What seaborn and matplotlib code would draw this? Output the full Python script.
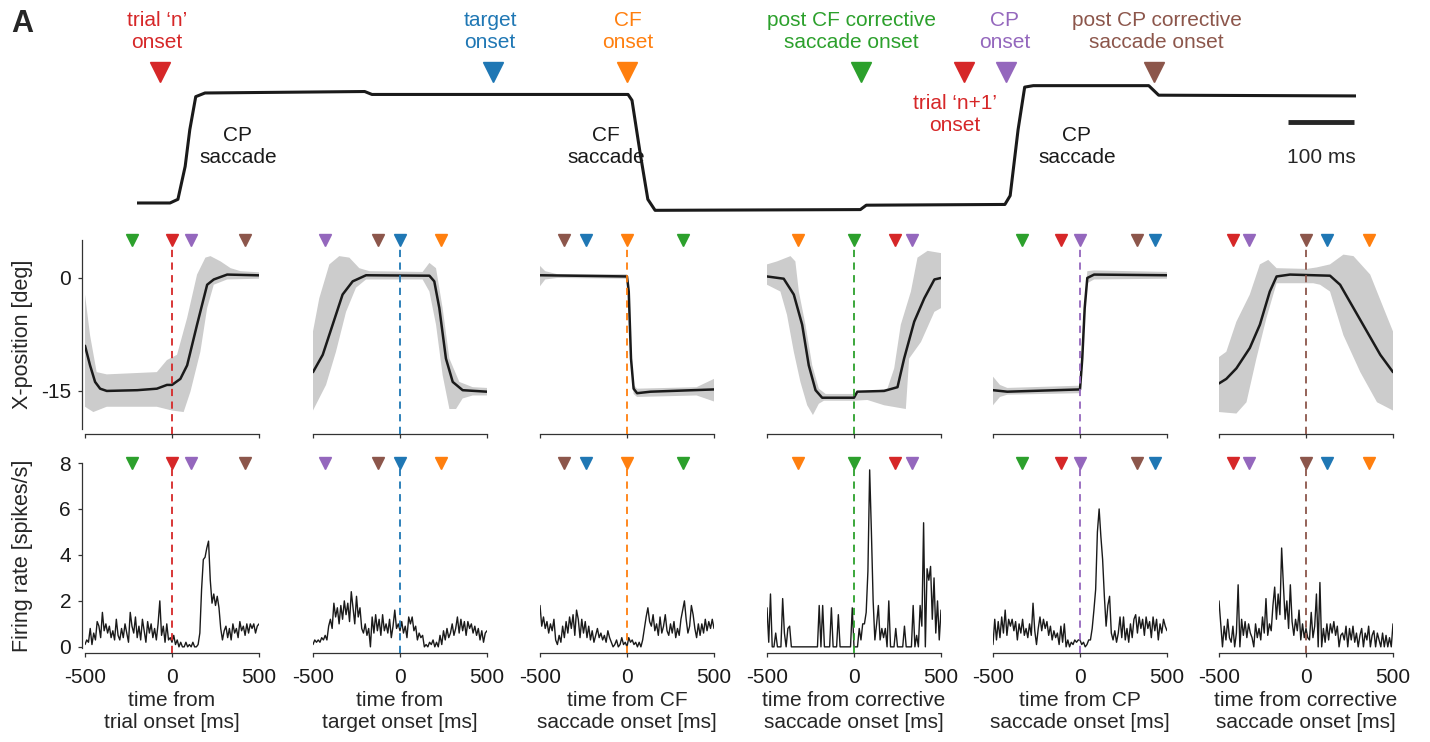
import numpy as np
import matplotlib
matplotlib.use("Agg")
import matplotlib.pyplot as plt
import seaborn as sns

sns.set_theme(style="ticks")
plt.rcParams["font.family"] = ["Liberation Sans", "DejaVu Sans"]
plt.rcParams["axes.unicode_minus"] = False

# ---- colours of the task events ----
event_colors = {
    "trial": "#d62728", "target": "#1f77b4", "cf": "#ff7f0e",
    "postcf": "#2ca02c", "cp": "#9467bd", "postcp": "#8c564b",
}
band_color = "#cccccc"

# ---- single trial eye trace (top), time in ms, position in deg ----
top_t = [0, 50, 62, 73, 80, 89, 103, 345, 356, 744, 750, 762, 774, 785,
         1096, 1105, 1315, 1323, 1335, 1345, 1358, 1533, 1548, 1847]
top_y = [-15, -15, -14.5, -10, -5, -0.5, 0, 0.2, -0.2, -0.2, -1, -8, -14.5, -16.0,
         -15.9, -15.3, -15.2, -14, -5, 0.8, 1.0, 1.0, -0.3, -0.4]
top_events = ["trial", "target", "cf", "postcf", "trial", "cp", "postcp"]
top_event_t = [35, 539, 742, 1097, 1253, 1317, 1541]
top_labels = [
    ("trial \u2018n\u2019\nonset", 30, 8.45, "trial"),
    ("target\nonset", 535, 8.45, "target"),
    ("CF\nonset", 744, 8.45, "cf"),
    ("post CF corrective\nsaccade onset", 1083, 8.45, "postcf"),
    ("CP\nonset", 1315, 8.45, "cp"),
    ("post CP corrective\nsaccade onset", 1545, 8.45, "postcp"),
    ("trial \u2018n+1\u2019\nonset", 1239, -3.0, "trial"),
    ("CP\nsaccade", 153, -7.36, None),
    ("CF\nsaccade", 711, -7.36, None),
    ("CP\nsaccade", 1424, -7.36, None),
]
scalebar_end = 1844
scalebar_ms = 100

# ---- panels ----
panel_xlabels = ["time from\ntrial onset [ms]", "time from\ntarget onset [ms]",
                 "time from CF\nsaccade onset [ms]", "time from corrective\nsaccade onset [ms]",
                 "time from CP\nsaccade onset [ms]", "time from corrective\nsaccade onset [ms]"]
panel_align = ["trial", "target", "cf", "postcf", "cp", "postcp"]
panel_events = [
    [("postcf", -231), ("trial", 0), ("cp", 112), ("postcp", 419)],
    [("cp", -429), ("postcp", -125), ("target", 0), ("cf", 238)],
    [("postcp", -362), ("target", -237), ("cf", 0), ("postcf", 319)],
    [("cf", -319), ("postcf", 0), ("trial", 233), ("cp", 331)],
    [("postcf", -331), ("trial", -112), ("cp", 0), ("postcp", 329), ("target", 433)],
    [("trial", -419), ("cp", -329), ("postcp", 0), ("target", 123), ("cf", 363)],
]

# eye position mean and band (deg)
p1_mean_t = [-500, -471, -442, -413, -375, -200, -87, -29, 0, 48, 87, 144, 202, 240, 317, 500]
p1_mean_y = [-9.0, -11.6, -13.8, -14.7, -15.0, -14.9, -14.7, -14.2, -14.2, -13.4, -11.6, -6.2, -0.9, -0.2, 0.45, 0.35]
p1_hi_t = [-500, -471, -433, -375, -87, -29, 29, 87, 144, 192, 221, 279, 337, 394, 500]
p1_hi_y = [-2.2, -7.6, -12.5, -12.8, -12.5, -10.9, -10.2, -5.3, 0.45, 2.7, 2.9, 2.2, 1.3, 0.9, 0.75]
p1_lo_t = [-500, -452, -375, -87, 0, 67, 106, 163, 202, 240, 317, 500]
p1_lo_y = [-17.1, -17.8, -17.1, -17.1, -17.6, -17.8, -15.1, -9.8, -4.0, -0.9, -0.2, -0.1]

p2_mean_t = [-500, -444, -387, -330, -272, -195, 169, 197, 226, 264, 303, 360, 500]
p2_mean_y = [-12.5, -10.2, -6.2, -2.2, -0.45, 0.36, 0.3, -0.45, -4.0, -10.7, -13.8, -14.9, -15.1]
p2_hi_t = [-500, -464, -406, -349, -291, -234, -176, 130, 169, 207, 245, 284, 341, 418, 500]
p2_hi_y = [-7.1, -2.7, 1.8, 2.9, 2.7, 1.3, 0.9, 0.8, 2.0, 1.3, -4.0, -10.7, -13.8, -14.5, -14.6]
p2_lo_t = [-500, -425, -368, -310, -253, -195, 130, 169, 207, 245, 284, 322, 360, 418, 500]
p2_lo_y = [-17.6, -14.2, -9.8, -4.5, -1.3, -0.2, -0.2, -1.8, -6.2, -12.9, -17.4, -17.4, -16.0, -15.6, -15.6]

p3_mean_t = [-500, 0, 10, 23, 38, 58, 135, 500]
p3_mean_y = [0.36, 0.2, -1.8, -10.7, -14.7, -15.3, -15.1, -14.8]
p3_hi_t = [-500, -470, -400, 0, 10, 23, 38, 58, 400, 500]
p3_hi_y = [1.6, 0.9, 0.5, 0.5, -1.0, -10.0, -14.2, -14.7, -14.5, -13.4]
p3_lo_t = [-500, -470, -400, 0, 10, 23, 38, 58, 400, 500]
p3_lo_y = [-1.1, -0.2, 0.0, -0.1, -2.6, -11.6, -15.4, -15.8, -15.6, -16.4]

p4_mean_t = [-500, -404, -346, -298, -260, -221, -183, 0, 19, 173, 250, 288, 346, 404, 462, 500]
p4_mean_y = [0.2, -0.1, -2.2, -6.2, -11.6, -14.9, -15.9, -15.9, -15.1, -15.0, -14.5, -10.7, -5.8, -2.7, -0.2, 0.0]
p4_hi_t = [-500, -442, -365, -337, -317, -279, -240, -202, -163, 0, 192, 231, 269, 327, 365, 423, 500]
p4_hi_y = [1.8, 2.2, 2.9, 2.2, -1.8, -6.2, -11.6, -14.7, -15.4, -15.4, -14.7, -12.0, -6.2, -1.8, 2.7, 3.6, 3.3]
p4_lo_t = [-500, -423, -385, -346, -308, -269, -236, -202, -173, 0, 77, 173, 298, 317, 385, 462, 500]
p4_lo_y = [-0.9, -1.8, -4.9, -9.8, -13.8, -16.9, -18.2, -16.7, -16.3, -16.3, -16.2, -16.9, -17.4, -10.7, -8.5, -4.5, -4.0]

p5_mean_t = [-500, -418, 0, 13, 27, 42, 81, 500]
p5_mean_y = [-14.9, -15.1, -14.8, -10.7, -4.0, 0.0, 0.45, 0.36]
p5_hi_t = [-500, -460, -418, 0, 13, 27, 42, 81, 500]
p5_hi_y = [-13.1, -14.2, -14.6, -14.3, -9.8, -3.1, 0.9, 1.0, 0.8]
p5_lo_t = [-500, -460, -418, 0, 13, 27, 42, 81, 500]
p5_lo_y = [-16.9, -15.8, -15.5, -15.3, -11.6, -5.3, -0.7, -0.2, -0.1]

p6_mean_t = [-500, -458, -400, -323, -265, -208, -169, -92, 138, 196, 273, 350, 427, 500]
p6_mean_y = [-14.0, -13.4, -12.0, -9.3, -6.2, -1.8, 0.2, 0.45, 0.3, -0.9, -4.0, -7.1, -10.2, -12.5]
p6_hi_t = [-500, -458, -400, -323, -265, -217, -169, 4, 62, 138, 215, 273, 369, 446, 500]
p6_hi_y = [-10.5, -9.8, -5.8, -2.2, 1.8, 2.4, 1.3, 1.2, 1.4, 1.8, 3.1, 2.9, 0.45, -4.0, -7.1]
p6_lo_t = [-500, -400, -342, -285, -227, -169, 42, 81, 138, 215, 312, 408, 500]
p6_lo_y = [-17.8, -18.0, -16.5, -10.7, -5.3, -0.7, -0.7, -0.9, -1.8, -7.6, -12.5, -16.5, -17.6]

# firing rates (spikes/s), 10 ms bins from -500 to 500
rate_t = np.arange(-500, 501, 10)
r1 = [0.1, 0.3, 0.2, 0.8, 0.1, 0.6, 0.3, 1.1, 0.9, 0.4,
      1.5, 0.7, 1.0, 0.6, 0.9, 0.4, 0.7, 0.3, 1.2, 0.5,
      0.3, 0.8, 0.4, 1.0, 0.6, 0.2, 1.5, 0.9, 0.6, 1.3,
      0.4, 0.9, 0.3, 1.2, 0.7, 0.2, 1.1, 0.6, 1.0, 0.4,
      0.8, 0.3, 1.0, 2.0, 0.5, 0.9, 0.2, 1.0, 0.3, 0.4,
      0.2, 0.5, 0.1, 0.3, 0.0, 0.2, 0.0, 0.0, 0.2, 0.0,
      0.1, 0.0, 0.2, 0.0, 0.0, 0.1, 0.6, 2.5, 3.8, 3.9,
      4.3, 4.6, 2.9, 1.9, 2.3, 1.8, 2.2, 1.7, 0.8, 0.3,
      0.7, 0.9, 0.4, 0.8, 0.3, 1.0, 0.6, 0.8, 0.4, 1.1,
      0.7, 0.9, 0.5, 1.0, 0.6, 1.0, 0.8, 1.0, 0.6, 0.9,
      1.0]
r2 = [0.1, 0.3, 0.2, 0.3, 0.2, 0.4, 0.3, 0.5, 0.3, 0.9,
      1.2, 0.8, 1.9, 1.3, 1.7, 1.0, 1.8, 1.2, 2.0, 1.4,
      1.9, 1.1, 2.4, 1.7, 1.0, 2.2, 1.3, 1.7, 0.8, 0.6,
      1.0, 0.5, 0.8, 0.0, 1.3, 0.6, 1.4, 0.7, 1.2, 0.5,
      1.4, 0.7, 1.0, 0.6, 1.2, 0.4, 0.9, 1.6, 0.8, 1.0,
      0.7, 1.1, 0.6, 0.9, 0.4, 1.3, 1.0, 1.3, 0.7, 0.9,
      0.3, 0.6, 0.4, 0.5, 0.0, 0.1, 0.0, 0.2, 0.1, 0.3,
      0.0, 0.2, 0.0, 0.5, 0.1, 0.7, 0.3, 0.8, 0.4, 0.6,
      1.0, 0.5, 0.8, 1.3, 0.6, 1.2, 0.7, 1.1, 0.5, 1.1,
      0.8, 1.0, 0.6, 0.9, 0.5, 0.8, 0.3, 0.7, 0.2, 0.6,
      0.7]
r3 = [1.8, 0.9, 1.3, 0.8, 1.1, 0.6, 1.0, 0.7, 1.2, 0.3,
      0.1, 0.5, 0.2, 0.9, 0.4, 1.1, 0.6, 1.3, 0.8, 1.4,
      0.5, 1.6, 1.2, 0.4, 1.2, 0.6, 1.1, 0.4, 0.9, 0.3,
      0.7, 0.2, 0.5, 0.8, 0.4, 0.6, 0.3, 0.5, 0.2, 0.7,
      0.4, 0.2, 0.0, 0.1, 0.3, 0.0, 0.1, 0.4, 0.1, 0.2,
      0.0, 0.4, 0.2, 0.3, 0.1, 0.2, 0.0, 0.2, 0.0, 0.3,
      0.8, 1.3, 1.7, 1.1, 0.9, 1.4, 0.7, 1.0, 0.5, 1.3,
      0.6, 0.9, 1.4, 0.7, 0.5, 1.0, 0.6, 1.1, 0.4, 0.8,
      0.5, 1.2, 1.6, 2.0, 1.2, 0.6, 0.9, 1.8, 1.4, 0.8,
      0.4, 1.0, 0.5, 1.0, 0.6, 1.2, 0.7, 1.1, 0.8, 1.2,
      0.8]
r4 = [1.7, 0.2, 2.3, 0.0, 0.0, 0.6, 0.0, 0.0, 0.0, 2.1,
      0.6, 0.0, 0.8, 0.9, 0.0, 0.0, 0.0, 0.0, 0.0, 0.0,
      0.0, 0.0, 0.0, 0.0, 0.0, 0.0, 0.0, 0.0, 0.0, 0.0,
      1.8, 0.0, 1.8, 0.0, 0.0, 0.0, 0.0, 1.7, 0.0, 0.0,
      0.0, 1.4, 0.0, 0.0, 0.0, 0.0, 0.0, 0.0, 0.0, 1.7,
      0.0, 0.0, 0.0, 0.8, 0.3, 1.0, 1.0, 1.5, 3.3, 7.7,
      5.0, 2.0, 0.3, 1.0, 1.8, 0.3, 0.8, 0.4, 0.8, 0.0,
      2.0, 0.0, 0.0, 0.0, 0.8, 0.0, 0.0, 0.0, 0.0, 0.9,
      0.0, 0.0, 0.0, 0.0, 1.8, 0.0, 0.5, 0.0, 1.8, 0.9,
      5.4, 0.0, 3.4, 2.9, 3.5, 1.2, 3.0, 0.6, 2.0, 0.3,
      1.6]
r5 = [0.1, 1.2, 0.3, 1.1, 0.4, 1.3, 0.6, 1.6, 0.5, 1.2,
      0.9, 1.2, 0.7, 1.1, 0.3, 1.0, 0.6, 1.2, 0.5, 0.8,
      0.4, 1.0, 0.5, 1.9, 0.7, 0.1, 0.8, 1.3, 0.7, 1.2,
      0.8, 1.1, 0.5, 0.9, 0.3, 0.7, 0.4, 0.6, 0.1, 0.9,
      0.2, 1.0, 0.0, 0.3, 0.0, 0.2, 0.1, 0.3, 0.2, 0.3,
      0.3, 0.1, 0.2, 0.0, 0.1, 0.3, 0.3, 0.8, 1.6, 2.5,
      5.0, 6.0, 4.8, 3.8, 2.2, 0.9, 1.8, 2.2, 0.6, 0.3,
      0.7, 0.2, 0.6, 1.3, 0.4, 1.3, 0.3, 0.8, 0.2, 1.0,
      0.4, 1.2, 1.4, 0.6, 1.3, 0.8, 1.2, 0.5, 1.3, 0.8,
      1.1, 0.4, 1.3, 0.7, 1.2, 0.3, 1.0, 0.6, 1.2, 0.9,
      0.7]
r6 = [2.0, 1.0, 0.0, 0.9, 0.3, 1.2, 0.4, 0.2, 0.9, 0.0,
      0.6, 2.7, 0.0, 1.2, 0.5, 1.1, 0.4, 1.0, 0.6, 0.4,
      0.0, 1.0, 0.4, 0.8, 0.3, 1.3, 0.6, 2.1, 0.5, 1.0,
      0.7, 1.8, 2.6, 1.2, 2.3, 1.4, 4.3, 2.7, 1.2, 2.0,
      0.8, 2.7, 1.1, 0.5, 1.2, 0.7, 1.6, 0.3, 1.0, 0.4,
      0.8, 0.4, 0.3, 1.5, 0.4, 0.9, 2.3, 0.0, 2.8, 0.0,
      0.8, 0.2, 1.0, 0.3, 1.0, 0.6, 1.1, 0.5, 0.9, 0.0,
      0.5, 0.6, 0.3, 0.9, 0.0, 0.8, 0.3, 0.9, 0.2, 0.6,
      0.0, 0.5, 0.8, 0.0, 0.6, 0.3, 0.9, 0.0, 0.5, 0.7,
      0.0, 0.6, 0.3, 0.0, 0.6, 0.0, 0.5, 0.0, 0.4, 0.0,
      1.0]

pos_data = [
    (p1_mean_t, p1_mean_y, p1_hi_t, p1_hi_y, p1_lo_t, p1_lo_y),
    (p2_mean_t, p2_mean_y, p2_hi_t, p2_hi_y, p2_lo_t, p2_lo_y),
    (p3_mean_t, p3_mean_y, p3_hi_t, p3_hi_y, p3_lo_t, p3_lo_y),
    (p4_mean_t, p4_mean_y, p4_hi_t, p4_hi_y, p4_lo_t, p4_lo_y),
    (p5_mean_t, p5_mean_y, p5_hi_t, p5_hi_y, p5_lo_t, p5_lo_y),
    (p6_mean_t, p6_mean_y, p6_hi_t, p6_hi_y, p6_lo_t, p6_lo_y),
]
rates = [r1, r2, r3, r4, r5, r6]

# ---- figure ----
W, H = 1430, 742
fig = plt.figure(figsize=(W / 100, H / 100), dpi=100)


def px_axes(left, top, right, bottom):
    return fig.add_axes([left / W, 1 - bottom / H, (right - left) / W, (bottom - top) / H])


FS = 15
spine_c = "0.2"

# top: example trial
ax_top = px_axes(137, 0, 1356, 220)
ax_top.set_xlim(0, 1847)
ax_top.set_ylim(-17.32, 12.68)
ax_top.axis("off")
sns.lineplot(x=top_t, y=top_y, ax=ax_top, color="k", lw=2.2, sort=False)
for ev, t in zip(top_events, top_event_t):
    ax_top.plot([t], [2.86], marker="v", ms=15, color=event_colors[ev], ls="none",
                clip_on=False)
for txt, x, y, ev in top_labels:
    ax_top.text(x, y, txt, ha="center", va="center", fontsize=FS,
                color=event_colors[ev] if ev else "k", linespacing=1.2)
ax_top.plot([scalebar_end - scalebar_ms, scalebar_end], [-3.95, -3.95], color="0.15", lw=3.5,
            solid_capstyle="butt")
ax_top.text(scalebar_end - scalebar_ms / 2, -8.86, f"{scalebar_ms} ms", ha="center",
            va="center", fontsize=FS)

fig.text(0.008, 0.988, "A", fontsize=22, fontweight="bold", va="top", ha="left")

panel_left = [85, 313, 540, 767, 993, 1219]
off_pt = 5 * 72 / 100

for i in range(6):
    l = panel_left[i]
    ax_pos = px_axes(l, 240.3, l + 174, 428.6)
    ax_fr = px_axes(l, 463, l + 174, 648)

    mt, my, ht, hy, lt, ly = pos_data[i]
    ax_pos.fill(np.r_[ht, lt[::-1]], np.r_[hy, ly[::-1]], color=band_color, lw=0)
    sns.lineplot(x=mt, y=my, ax=ax_pos, color="k", lw=1.8)
    ax_pos.set_ylim(-20, 5)

    sns.lineplot(x=rate_t, y=rates[i], ax=ax_fr, color="k", lw=1.0)
    ax_fr.set_ylim(-0.05, 8)

    for ax, ytop in ((ax_pos, 5), (ax_fr, 8)):
        ax.set_xlim(-500, 500)
        ax.set_xticks([-500, 0, 500])
        ax.set_xlabel("")
        ax.set_ylabel("")
        sns.despine(ax=ax, offset={"left": off_pt * 0.7, "bottom": off_pt}, left=(i > 0))
        for s in ("left", "bottom"):
            ax.spines[s].set_color(spine_c)
            ax.spines[s].set_linewidth(0.9)
        ax.tick_params(labelsize=FS, length=3, width=0.9, color=spine_c, labelcolor="k")
        ax.tick_params(axis="y", pad=4.5)
        ax.axvline(0, ymin=-0.027, ymax=1, color=event_colors[panel_align[i]],
                   ls=(0, (4, 3)), lw=1.3, clip_on=False, zorder=3)
        for ev, t in panel_events[i]:
            ax.plot([t], [ytop], marker="v", ms=8.5, color=event_colors[ev], ls="none",
                    clip_on=False, zorder=5)
        if i > 0:
            ax.set_yticks([])

    ax_pos.tick_params(labelbottom=False)
    ax_fr.tick_params(axis="x", pad=8)
    ax_fr.set_xlabel(panel_xlabels[i], fontsize=FS, labelpad=3)
    if i == 0:
        ax_pos.set_yticks([0, -15])
        ax_fr.set_yticks([0, 2, 4, 6, 8])
        ax_pos.set_ylabel("X-position [deg]", fontsize=15.5)
        ax_fr.set_ylabel("Firing rate [spikes/s]", fontsize=15.5)
        ax_pos.yaxis.set_label_coords(-0.30, 0.5)
        ax_fr.yaxis.set_label_coords(-0.30, 0.5)

fig.savefig("out.png", dpi=100)
